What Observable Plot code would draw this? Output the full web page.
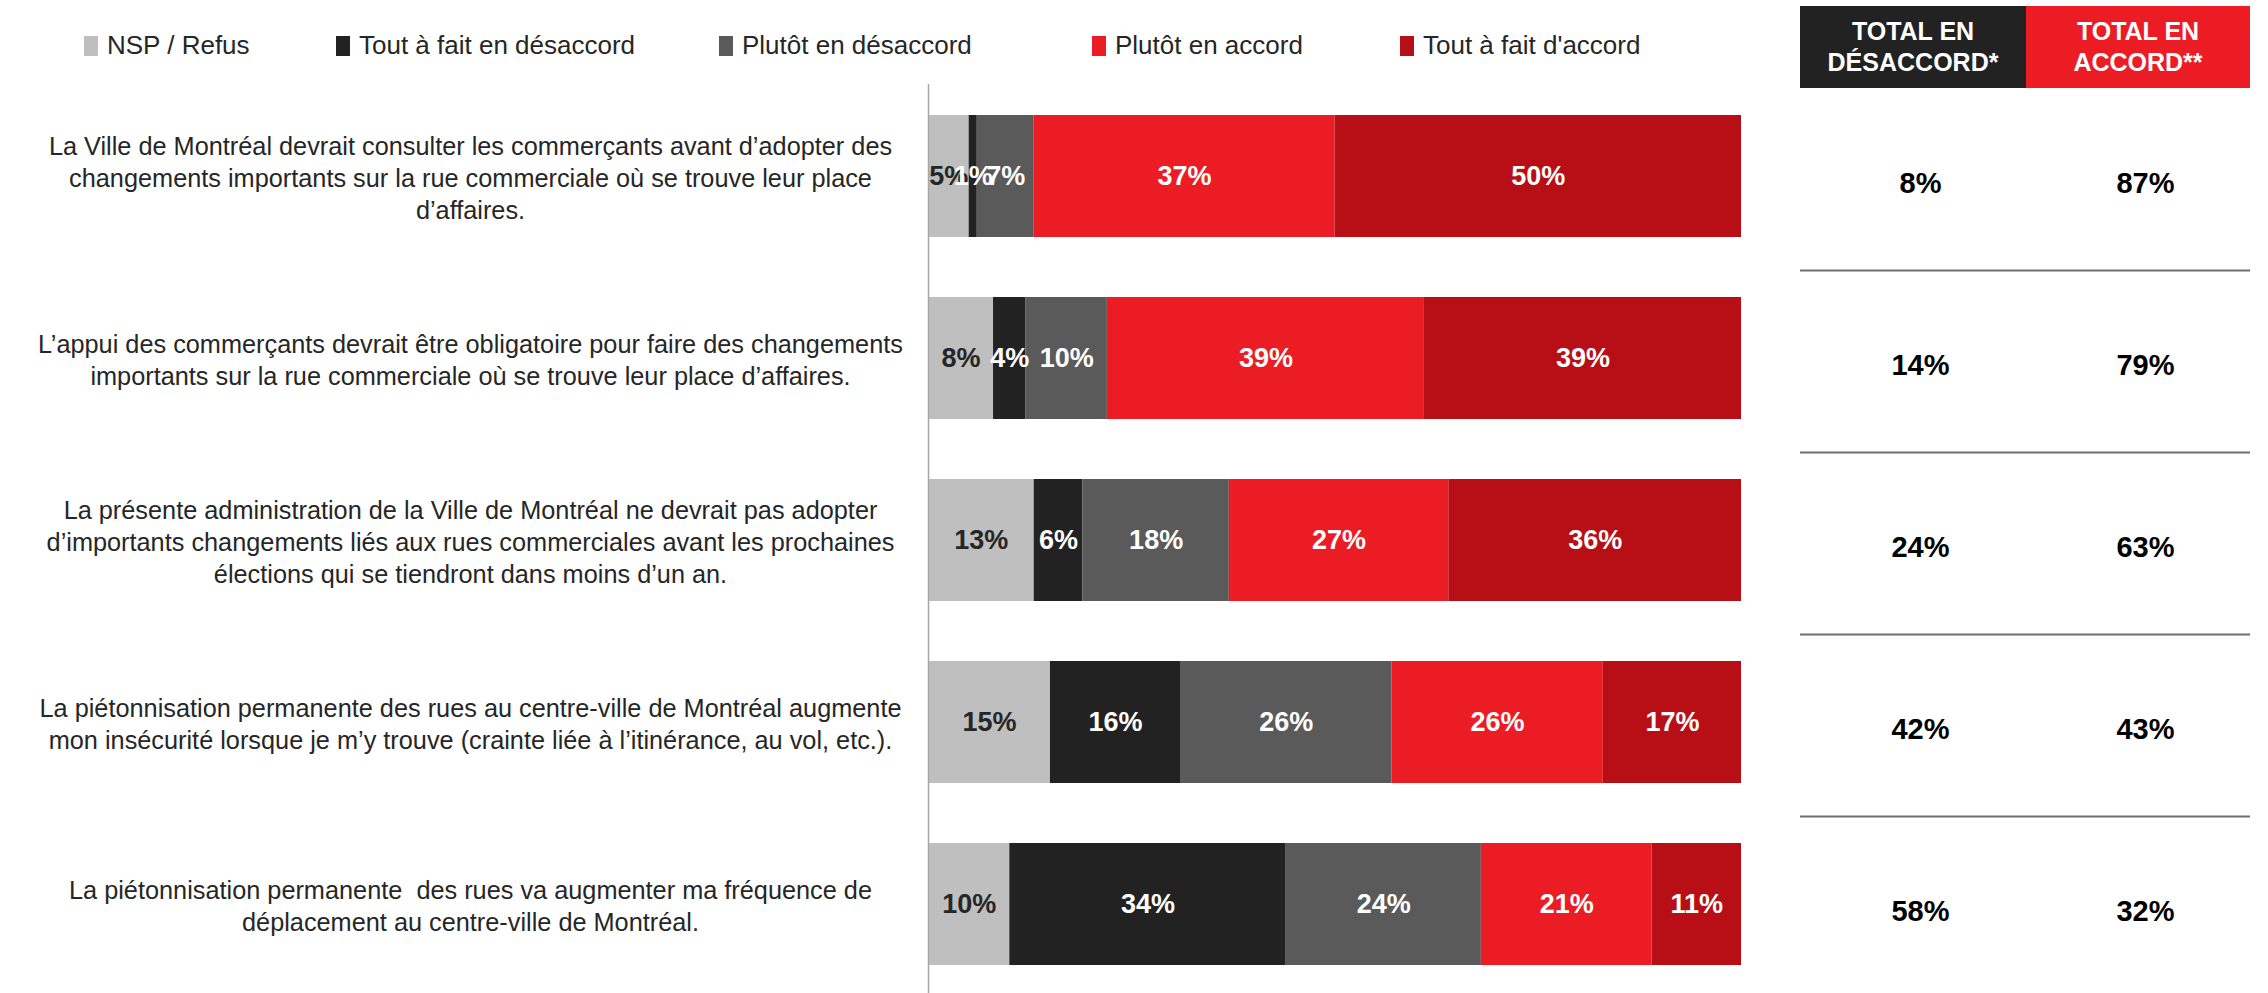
<!DOCTYPE html>
<html>
<head>
<meta charset="utf-8">
<script src="https://cdn.jsdelivr.net/npm/d3@7"></script>
<script src="https://cdn.jsdelivr.net/npm/@observablehq/plot@0.6"></script>
<style>
  body { margin: 0; background: #fff; font-family: "Liberation Sans", Arial, sans-serif; }
  #wrap { position: relative; width: 2268px; height: 993px; overflow: hidden; }
  #head { position: relative; height: 84px; }
  .lg { position: absolute; top: 30px; display: flex; align-items: center; font-size: 26px; color: #262626; white-space: nowrap; }
  .sw { width: 14px; height: 20px; margin-right: 9px; }
  .hb { position: absolute; top: 6px; height: 82px; color: #fff; font-weight: bold; font-size: 25px; line-height: 1.24; display: flex; align-items: center; justify-content: center; text-align: center; white-space: pre; }
  #row { display: flex; }
  #row svg { flex: none; }
</style>
</head>
<body>
<div id="wrap">
  <div id="head"></div>
  <div id="row"></div>
</div>
<script>
const categories = [
  "La Ville de Montréal devrait consulter les commerçants avant d’adopter des\nchangements importants sur la rue commerciale où se trouve leur place\nd’affaires.",
  "L’appui des commerçants devrait être obligatoire pour faire des changements\nimportants sur la rue commerciale où se trouve leur place d’affaires.",
  "La présente administration de la Ville de Montréal ne devrait pas adopter\nd’importants changements liés aux rues commerciales avant les prochaines\nélections qui se tiendront dans moins d’un an.",
  "La piétonnisation permanente des rues au centre-ville de Montréal augmente\nmon insécurité lorsque je m’y trouve (crainte liée à l’itinérance, au vol, etc.).",
  "La piétonnisation permanente  des rues va augmenter ma fréquence de\ndéplacement au centre-ville de Montréal."
];
const levels = ["NSP / Refus", "Tout à fait en désaccord", "Plutôt en désaccord", "Plutôt en accord", "Tout à fait d'accord"];
const colors = ["#bfbfbf", "#222222", "#5a5a5a", "#ec1c24", "#b70f15"];
const nsp    = [5, 8, 13, 15, 10];
const tafDes = [1, 4, 6, 16, 34];
const pluDes = [7, 10, 18, 26, 24];
const pluAcc = [37, 39, 27, 26, 21];
const tafAcc = [50, 39, 36, 17, 11];
const totalHeaders = ["TOTAL EN\nDÉSACCORD*", "TOTAL EN\nACCORD**"];
const totalHeaderColors = ["#222222", "#ec1c24"];
const totalDes = [8, 14, 24, 42, 58];
const totalAcc = [87, 79, 63, 43, 32];

const series = [nsp, tafDes, pluDes, pluAcc, tafAcc];
const rows = [];
categories.forEach((c, i) => levels.forEach((l, j) => rows.push({cat: c, level: l, value: series[j][i]})));
const totals = [];
categories.forEach((c, i) => {
  totals.push({cat: c, col: totalHeaders[0], value: totalDes[i]});
  totals.push({cat: c, col: totalHeaders[1], value: totalAcc[i]});
});

// Header: legend + total boxes
const head = document.getElementById("head");
const legendX = [84, 336, 719, 1092, 1400];
levels.forEach((l, j) => {
  const d = document.createElement("div");
  d.className = "lg";
  d.style.left = legendX[j] + "px";
  d.innerHTML = `<span class="sw" style="background:${colors[j]}"></span><span>${l}</span>`;
  head.appendChild(d);
});
const hbX = [1800, 2026];
const hbW = [226, 224];
totalHeaders.forEach((h, k) => {
  const d = document.createElement("div");
  d.className = "hb";
  d.style.left = hbX[k] + "px";
  d.style.width = hbW[k] + "px";
  d.style.background = totalHeaderColors[k];
  d.textContent = h;
  head.appendChild(d);
});

const H = 909;
const yOpts = {type: "band", domain: categories, range: [30, 881], paddingInner: 0.33, paddingOuter: 0};
const font = "'Liberation Sans', Arial, sans-serif";

const chart = Plot.plot({
  width: 1768, height: H,
  marginLeft: 928, marginRight: 27, marginTop: 0, marginBottom: 0,
  style: {fontFamily: font, fontSize: "25px", color: "#262626", background: "transparent"},
  x: {domain: [0, 100], axis: null},
  y: {...yOpts, axis: null},
  color: {domain: levels, range: colors},
  marks: [
    Plot.barX(rows, Plot.stackX({x: "value", y: "cat", fill: "level", inset: 0})),
    Plot.text(rows.filter(d => d.level === levels[0]), Plot.stackX({x: "value", y: "cat", text: d => d.value + "%", fill: "#262626", fontWeight: "bold", fontSize: 27})),
    Plot.text(rows, Plot.stackX({x: "value", y: "cat", text: d => d.level === levels[0] ? "" : d.value + "%", fill: "#fff", fontWeight: "bold", fontSize: 27})),
    Plot.axisY({label: null, tickSize: 0, tickPadding: 0, textAnchor: "middle", dx: -458, fontSize: 25.3, lineHeight: 1.26, fill: "#262626"}),
    Plot.ruleX([0], {stroke: "#a6a6a6", strokeWidth: 1.5})
  ]
});

const table = Plot.plot({
  width: 500, height: H,
  marginLeft: 32, marginRight: 18, marginTop: 0, marginBottom: 0,
  style: {fontFamily: font, fontSize: "29px", background: "transparent"},
  x: {type: "point", domain: totalHeaders, padding: 0.5, axis: null},
  y: {...yOpts, axis: null},
  marks: [
    Plot.ruleY(categories.slice(0, -1), {y: d => d, dy: 94, stroke: "#6f6f6f", strokeWidth: 2}),
    Plot.text(totals, {x: "col", y: "cat", text: d => d.value + "%", fontWeight: "bold", fontSize: 29, fill: "#000", dx: 7, dy: 7})
  ]
});

const row = document.getElementById("row");
row.appendChild(chart);
row.appendChild(table);
</script>
</body>
</html>
